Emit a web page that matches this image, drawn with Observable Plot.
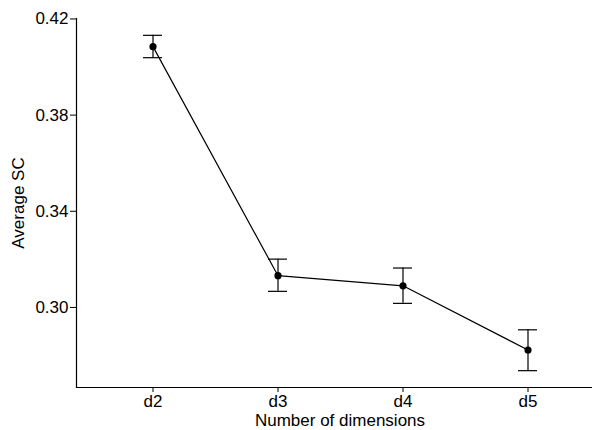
<!DOCTYPE html>
<html>
<head>
<meta charset="utf-8">
<script src="https://cdn.jsdelivr.net/npm/d3@7"></script>
<script src="https://cdn.jsdelivr.net/npm/@observablehq/plot@0.6"></script>
<style>
  html, body { margin: 0; padding: 0; background: #fff; }
</style>
</head>
<body>
<div id="chart"></div>
<script>
const dims = ["d2", "d3", "d4", "d5"];
const avgSC = [0.4085, 0.3132, 0.3090, 0.2823];
const lowerSC = [0.4039, 0.3067, 0.3017, 0.2737];
const upperSC = [0.4132, 0.3201, 0.3164, 0.2907];
const yTicks = [0.30, 0.34, 0.38, 0.42];
const yDomain = [0.2667, 0.4202];

const data = dims.map((d, i) => ({dim: d, avg: avgSC[i], lo: lowerSC[i], hi: upperSC[i]}));

const chart = Plot.plot({
  width: 592,
  height: 430,
  marginTop: 18,
  marginBottom: 43,
  marginLeft: 76,
  marginRight: -11,
  style: {fontFamily: "'Liberation Sans', Arial, sans-serif", fontSize: "17px", color: "#000", background: "#fff"},
  x: {type: "band", domain: dims, paddingInner: 0.85, paddingOuter: 0.525, label: null},
  y: {domain: yDomain, label: null},
  marks: [
    Plot.ruleY([yDomain[0]], {stroke: "#000", strokeWidth: 1.2}),
    Plot.frame({anchor: "left", stroke: "#000", strokeWidth: 1.2}),
    Plot.axisY({ticks: yTicks, tickFormat: d3.format(".2f"), tickSize: 6, tickPadding: 2, fontSize: 17,
      label: "Average SC", labelAnchor: "center", labelArrow: false, labelOffset: 65}),
    Plot.axisX({tickSize: 5, tickPadding: 2, fontSize: 17,
      label: "Number of dimensions", labelAnchor: "center", labelArrow: false, labelOffset: 38}),
    Plot.ruleX(data, {x: "dim", y1: "lo", y2: "hi", stroke: "#000", strokeWidth: 1.2}),
    Plot.tickY(data, {x: "dim", y: "lo", stroke: "#000", strokeWidth: 1.2}),
    Plot.tickY(data, {x: "dim", y: "hi", stroke: "#000", strokeWidth: 1.2}),
    Plot.line(data, {x: "dim", y: "avg", stroke: "#000", strokeWidth: 1.2}),
    Plot.dot(data, {x: "dim", y: "avg", r: 3.6, fill: "#000", stroke: "none"})
  ]
});
document.getElementById("chart").appendChild(chart);
</script>
</body>
</html>
